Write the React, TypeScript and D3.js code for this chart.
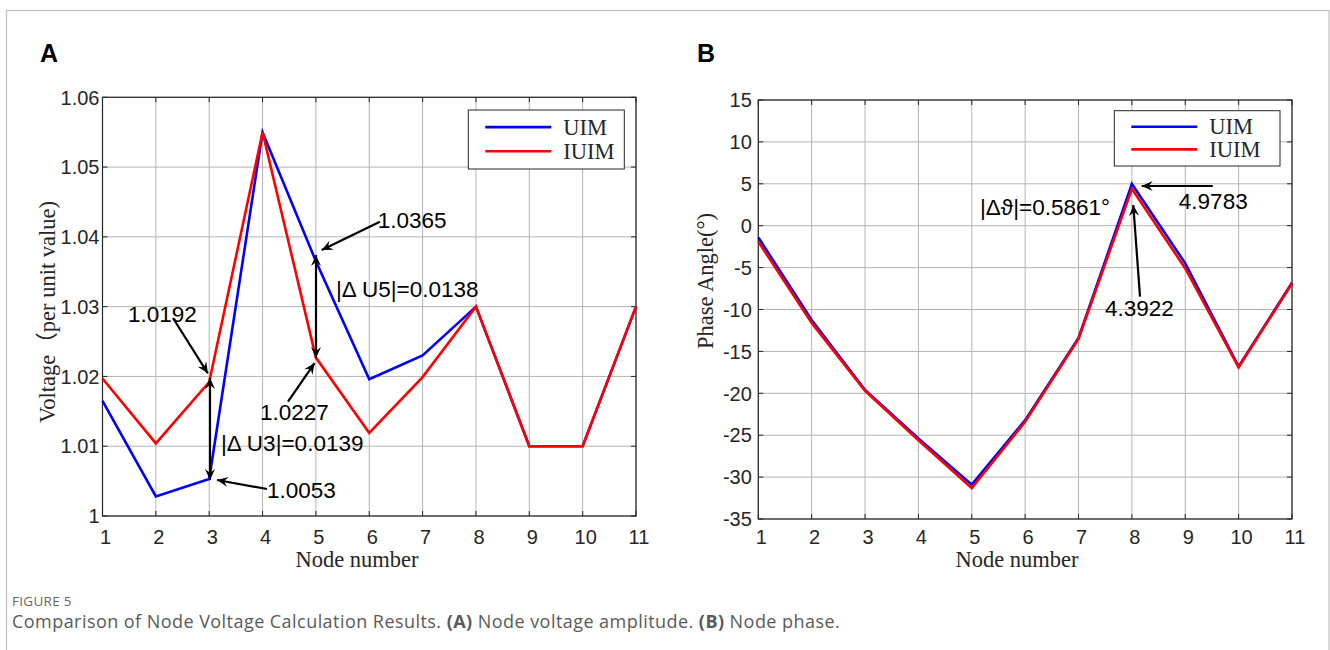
import React from 'react'
import * as d3 from 'd3'

// node indices on the x axis
const nodes = [1, 2, 3, 4, 5, 6, 7, 8, 9, 10, 11]

// panel A: voltage amplitude (p.u.)
const uimVoltage = [1.0165, 1.0028, 1.0053, 1.055, 1.0365, 1.0196, 1.023, 1.03, 1.01, 1.01, 1.03]
const iuimVoltage = [1.0197, 1.0104, 1.0192, 1.055, 1.0227, 1.0119, 1.0199, 1.03, 1.01, 1.01, 1.03]
const voltageTicks = [1, 1.01, 1.02, 1.03, 1.04, 1.05, 1.06]

// panel B: phase angle (deg)
const uimPhase = [-1.4, -11.25, -19.6, -25.4, -30.9, -23.2, -13.4, 4.9783, -4.5, -16.8, -6.8]
const iuimPhase = [-1.9, -11.6, -19.7, -25.6, -31.3, -23.4, -13.5, 4.3922, -5.1, -16.9, -6.9]
const phaseTicks = [-35, -30, -25, -20, -15, -10, -5, 0, 5, 10, 15]

const seriesNames = ['UIM', 'IUIM']
const seriesColors = ['#0000ff', '#ff0000']

type Pt = [number, number]
interface Note {
  text?: string
  at?: Pt
  arrow?: [Pt, Pt]
  double?: boolean
}

// annotations, positions given in data units
const voltageNotes: Note[] = [
  { text: '1.0192', at: [1.478, 1.02779] },
  { arrow: [[2.321, 1.02837], [2.975, 1.02045]] },
  { arrow: [[3.015, 1.01977], [3.015, 1.00516]], double: true },
  { text: '|Δ U3|=0.0139', at: [3.221, 1.00936] },
  { text: '1.0053', at: [4.083, 1.00258] },
  { arrow: [[4.083, 1.00387], [3.146, 1.00516]] },
  { text: '1.0227', at: [3.952, 1.01375] },
  { arrow: [[4.477, 1.01638], [4.975, 1.02192]] },
  { arrow: [[5.002, 1.03739], [5.002, 1.02264]], double: true },
  { text: '|Δ U5|=0.0138', at: [5.377, 1.03142] },
  { text: '1.0365', at: [6.16, 1.04126] },
  { arrow: [[6.2, 1.04216], [5.109, 1.03811]] },
]

const phaseNotes: Note[] = [
  { text: '|Δϑ|=0.5861°', at: [5.154, 1.28] },
  { text: '4.9783', at: [8.88, 1.99] },
  { arrow: [[9.516, 4.74], [8.184, 4.74]] },
  { text: '4.3922', at: [7.495, -10.74] },
  { arrow: [[8.152, -8.47], [8.026, 2.47]] },
]

const axisColor = '#262626'
const tickFont = '"Liberation Sans", Arial, sans-serif'
const serifFont = '"Liberation Serif", "Times New Roman", "Noto Sans CJK SC", serif'
const captionFont = '"Open Sans", "Noto Sans", sans-serif'

const fmtTick = (t: number) => String(+t.toFixed(4))

function arrowHead(from: Pt, to: Pt) {
  const ang = Math.atan2(to[1] - from[1], to[0] - from[0])
  const len = 11
  const half = 5
  const back = 7
  const ux = Math.cos(ang)
  const uy = Math.sin(ang)
  const px = -uy
  const py = ux
  const bx = to[0] - ux * len
  const by = to[1] - uy * len
  const nx = to[0] - ux * back
  const ny = to[1] - uy * back
  return `M${to[0]},${to[1]}L${bx + px * half},${by + py * half}L${nx},${ny}L${bx - px * half},${by - py * half}Z`
}

interface PanelProps {
  box: { left: number; right: number; top: number; bottom: number }
  yDomain: [number, number]
  yTicks: number[]
  values: number[][]
  notes: Note[]
  yLabel: string
  yLabelPos: Pt
  xLabelX: number
  yTickGap: number
  legend: { x: number; y: number; w: number; h: number }
}

const Panel: React.FC<PanelProps> = ({ box, yDomain, yTicks, values, notes, yLabel, yLabelPos, xLabelX, yTickGap, legend }) => {
  const x = d3.scaleLinear().domain([1, 11]).range([box.left, box.right])
  const y = d3.scaleLinear().domain(yDomain).range([box.bottom, box.top])
  const line = d3
    .line<number>()
    .x((_, i) => x(nodes[i]))
    .y((d) => y(d))
  const tk = 5
  const P = (p: Pt): Pt => [x(p[0]), y(p[1])]

  return (
    <g>
      {/* grid */}
      {nodes.map((n) => (
        <line key={'gx' + n} x1={x(n)} x2={x(n)} y1={box.top} y2={box.bottom} stroke="#b4b4b4" strokeWidth={1} />
      ))}
      {yTicks.map((t) => (
        <line key={'gy' + t} x1={box.left} x2={box.right} y1={y(t)} y2={y(t)} stroke="#b4b4b4" strokeWidth={1} />
      ))}
      {/* tick marks (inside, all sides) */}
      {nodes.map((n) => (
        <g key={'tx' + n} stroke={axisColor} strokeWidth={1}>
          <line x1={x(n)} x2={x(n)} y1={box.bottom} y2={box.bottom - tk} />
          <line x1={x(n)} x2={x(n)} y1={box.top} y2={box.top + tk} />
        </g>
      ))}
      {yTicks.map((t) => (
        <g key={'ty' + t} stroke={axisColor} strokeWidth={1}>
          <line x1={box.left} x2={box.left + tk} y1={y(t)} y2={y(t)} />
          <line x1={box.right} x2={box.right - tk} y1={y(t)} y2={y(t)} />
        </g>
      ))}
      <rect x={box.left} y={box.top} width={box.right - box.left} height={box.bottom - box.top} fill="none" stroke={axisColor} strokeWidth={1.2} />
      {/* tick labels */}
      {nodes.map((n) => (
        <text key={'lx' + n} x={x(n) + 3} y={544} textAnchor="middle" fontFamily={tickFont} fontSize={20} fill={axisColor}>
          {n}
        </text>
      ))}
      {yTicks.map((t) => (
        <text key={'ly' + t} x={box.left - yTickGap} y={y(t)} dy="0.36em" textAnchor="end" fontFamily={tickFont} fontSize={20} fill={axisColor}>
          {fmtTick(t)}
        </text>
      ))}
      {/* axis titles */}
      <text x={xLabelX} y={567} textAnchor="middle" fontFamily={serifFont} fontSize={22.5} fill={axisColor}>
        Node number
      </text>
      <text
        transform={`translate(${yLabelPos[0]},${yLabelPos[1]}) rotate(-90)`}
        textAnchor="middle"
        fontFamily={serifFont}
        fontSize={22.5}
        fill={axisColor}
      >
        {yLabel}
      </text>
      {/* series */}
      {values.map((v, i) => (
        <path key={'s' + i} d={line(v) as string} fill="none" stroke={seriesColors[i]} strokeWidth={2.6} strokeLinejoin="miter" />
      ))}
      {/* legend */}
      <rect x={legend.x} y={legend.y} width={legend.w} height={legend.h} fill="#fff" stroke={axisColor} strokeWidth={1} />
      {seriesNames.map((s, i) => {
        const ly = legend.y + legend.h * (0.29 + i * 0.41)
        return (
          <g key={'lg' + s}>
            <line x1={legend.x + 17} x2={legend.x + 83} y1={ly} y2={ly} stroke={seriesColors[i]} strokeWidth={2.6} />
            <text x={legend.x + 95} y={ly} dy="0.33em" fontFamily={serifFont} fontSize={22.5} fill={axisColor}>
              {s}
            </text>
          </g>
        )
      })}
      {/* annotations */}
      {notes.map((nt, i) => {
        if (nt.text && nt.at) {
          const [px, py] = P(nt.at)
          return (
            <text key={'n' + i} x={px} y={py} fontFamily={tickFont} fontSize={22.5} fill="#000">
              {nt.text}
            </text>
          )
        }
        if (nt.arrow) {
          const a = P(nt.arrow[0])
          const b = P(nt.arrow[1])
          return (
            <g key={'n' + i}>
              <line x1={a[0]} y1={a[1]} x2={b[0]} y2={b[1]} stroke="#000" strokeWidth={2.2} />
              <path d={arrowHead(a, b)} fill="#000" />
              {nt.double && <path d={arrowHead(b, a)} fill="#000" />}
            </g>
          )
        }
        return null
      })}
    </g>
  )
}

export default function App() {
  return (
    <div style={{ position: 'absolute', left: 0, top: 0 }}>
      <svg width={1330} height={650} style={{ display: 'block', background: '#fff' }}>
        <rect x={6.5} y={10.5} width={1322.5} height={660} fill="#fff" stroke="#c4c4c4" strokeWidth={1.3} />
        <text x={40} y={62} fontFamily={tickFont} fontWeight="bold" fontSize={25} fill="#000">
          A
        </text>
        <text x={697} y={62} fontFamily={tickFont} fontWeight="bold" fontSize={25} fill="#000">
          B
        </text>
        <Panel
          box={{ left: 102.5, right: 636, top: 97.3, bottom: 516 }}
          yDomain={[1, 1.06]}
          yTicks={voltageTicks}
          values={[uimVoltage, iuimVoltage]}
          notes={voltageNotes}
          yLabel="Voltage（per unit value)"
          yLabelPos={[55, 312]}
          xLabelX={357}
          yTickGap={3}
          legend={{ x: 468.3, y: 110, w: 156, h: 59 }}
        />
        <Panel
          box={{ left: 758.3, right: 1292, top: 100, bottom: 519 }}
          yDomain={[-35, 15]}
          yTicks={phaseTicks}
          values={[uimPhase, iuimPhase]}
          notes={phaseNotes}
          yLabel="Phase Angle(°)"
          yLabelPos={[713, 281]}
          xLabelX={1017}
          yTickGap={6.5}
          legend={{ x: 1114.3, y: 110.7, w: 165.7, h: 55.3 }}
        />
        <text x={12} y={606} fontFamily={captionFont} fontSize={13.5} fill="#666" letterSpacing={0.3}>
          FIGURE 5
        </text>
        <text x={12} y={628} fontFamily={captionFont} fontSize={18} fill="#5a5a5a" letterSpacing={0.45}>
          Comparison of Node Voltage Calculation Results. <tspan fontWeight="bold">(A)</tspan> Node voltage amplitude.{' '}
          <tspan fontWeight="bold">(B)</tspan> Node phase.
        </text>
      </svg>
    </div>
  )
}
